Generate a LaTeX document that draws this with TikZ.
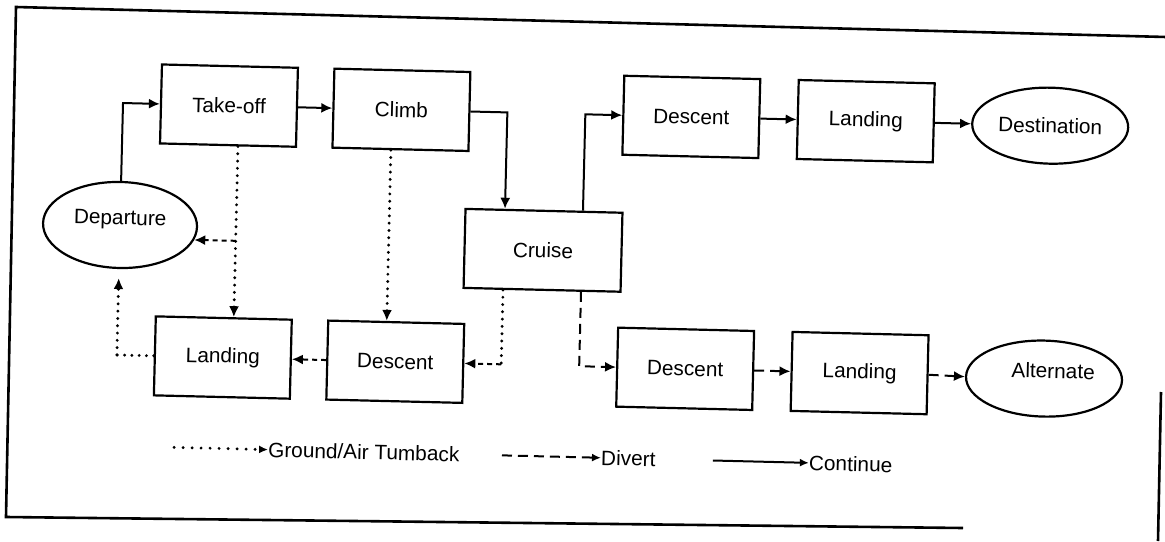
\documentclass[tikz,border=0pt]{standalone}
\usepackage{fontspec}
\setmainfont{Liberation Sans}
\usetikzlibrary{arrows.meta,shapes.geometric}
\tikzset{
  lbl/.style={font=\fontsize{20.8}{24}\selectfont},
  box/.style={draw, line width=2.2pt, rectangle, minimum width=136pt, minimum height=79pt, inner sep=0pt, lbl},
  oval/.style={draw, line width=2.2pt, ellipse, minimum width=156pt, minimum height=76pt, inner sep=0pt, lbl},
  tip/.style={-{Latex[length=11pt,width=10pt]}},
  ltip/.style={-{Latex[length=9pt,width=8pt]}},
  cont/.style={line width=2pt},
  turn/.style={line width=3.2pt, line cap=round, dash pattern=on 0pt off 7.3pt},
  turnh/.style={line width=2pt, dash pattern=on 5pt off 4pt},
  divert/.style={line width=2pt, dash pattern=on 10pt off 6pt},
  frame/.style={line width=2.6pt},
}
\begin{document}
\begin{tikzpicture}[x=1pt,y=-1pt]
\useasboundingbox (0,0) rectangle (1165,541);
% scanned outer frame
\draw[frame] (1166,37) -- (16,7) -- (6,517) -- (963,528);
\draw[frame] (1161,392) -- (1158,541);
\begin{scope}[rotate=-1.4, transform shape]
  % nodes
  \node[oval, minimum width=154pt, minimum height=86pt] (dep) at (125.5,222) {\raisebox{15pt}{Departure}};
  \node[box] (tko) at (231.5,100) {Take-off};
  \node[box] (clb) at (404,100) {Climb};
  \node[box, minimum width=157pt] (crz) at (549,237) {Cruise};
  \node[box] (dsT) at (694,100) {Descent};
  \node[box] (ldT) at (868.5,100) {Landing};
  \node[oval] (dst) at (1053,100) {Destination};
  \node[box] (ldL) at (231.5,352) {Landing};
  \node[box] (dsL) at (404,352) {Descent};
  \node[box] (dsB) at (694,352) {Descent};
  \node[box] (ldB) at (868.5,352) {Landing};
  \node[oval] (alt) at (1053,353) {\raisebox{16pt}{\hspace*{18pt}Alternate}};
  % corner points
  \coordinate (k0) at (125.5,100);
  \coordinate (k1) at (510,100);
  \coordinate (k2) at (588,100);
  \coordinate (k3) at (241.5,235);
  \coordinate (k4) at (125.5,352);
  \coordinate (k5) at (510,352);
  \coordinate (k6) at (588,352);
  % continue
  \draw[cont, tip] (dep.north) -- (k0) -- (tko.west);
  \draw[cont, tip] (tko.east) -- (clb.west);
  \draw[cont, tip] (clb.east) -- (k1) -- ([xshift=-39pt]crz.north);
  \draw[cont, tip] ([xshift=39pt]crz.north) -- (k2) -- (dsT.west);
  \draw[cont, tip] (dsT.east) -- (ldT.west);
  \draw[cont, tip] (ldT.east) -- (dst.west);
  % turnback
  \draw[turn, tip] ([xshift=10pt]tko.south) -- ([xshift=10pt]ldL.north);
  \draw[turnh, tip] (k3) -- (dep.-10);
  \draw[turn, tip] ([xshift=-9.5pt]clb.south) -- ([xshift=-9.5pt]dsL.north);
  \draw[turnh, tip] (dsL.west) -- (ldL.east);
  \draw[turn] (ldL.west) -- (k4);
  \draw[turn, tip, shorten >=9pt] (k4) -- (dep.south);
  \draw[turn] ([xshift=-39pt]crz.south) -- (k5);
  \draw[turnh, tip] (k5) -- (dsL.east);
  % divert
  \draw[divert, tip] ([xshift=39pt]crz.south) -- (k6) -- (dsB.west);
  \draw[divert, tip] (dsB.east) -- (ldB.west);
  \draw[divert, tip] (ldB.east) -- (alt.west);
  % legend
  \coordinate (g1) at (185,443);
  \coordinate (g2) at (513,443);
  \coordinate (g3) at (724,443);
  \node[lbl, anchor=west, inner sep=0pt] (g1t) at (279,443) {Ground/Air Tumback};
  \node[lbl, anchor=west, inner sep=0pt] (g2t) at (612,443) {Divert};
  \node[lbl, anchor=west, inner sep=0pt] (g3t) at (820,443) {Continue};
  \draw[turn, dash pattern=on 0pt off 9pt, ltip] (g1) -- (g1t.west);
  \draw[divert, dash pattern=on 10pt off 6pt, ltip] (g2) -- (g2t.west);
  \draw[cont, ltip] (g3) -- (g3t.west);
\end{scope}
\end{tikzpicture}
\end{document}
